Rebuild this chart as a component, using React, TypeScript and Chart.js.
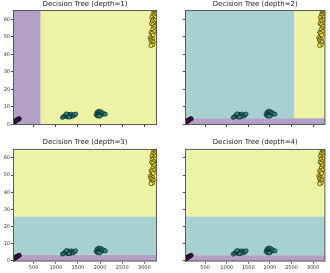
import React, { useEffect, useRef } from "react";
import { Chart, registerables } from "chart.js";

Chart.register(...registerables);

// Axis ranges and ticks
const xMin = 35;
const xMax = 3285;
const yMin = -0.3;
const yMax = 65.3;
const xTicks = [500, 1000, 1500, 2000, 2500, 3000];
const yTicks = [0, 10, 20, 30, 40, 50, 60];

// Subplot titles
const titles = [
  "Decision Tree (depth=1)",
  "Decision Tree (depth=2)",
  "Decision Tree (depth=3)",
  "Decision Tree (depth=4)",
];

// Class points
const class0X = [40, 46, 52, 58, 63, 70, 75, 82, 88, 95, 100, 107, 112, 120, 126, 133, 140, 147, 155, 162, 170, 178, 60, 110];
const class0Y = [0.9, 1.0, 1.2, 1.3, 1.5, 1.5, 1.7, 1.8, 2.0, 2.0, 2.2, 2.3, 2.4, 2.5, 2.6, 2.7, 2.8, 2.9, 3.0, 3.1, 3.2, 3.3, 1.2, 2.1];
const class1X = [1150, 1180, 1210, 1230, 1250, 1260, 1270, 1280, 1290, 1300, 1310, 1320, 1330, 1340, 1350, 1370, 1390, 1410, 1430, 1450, 1240, 1300,
  1910, 1930, 1940, 1950, 1960, 1970, 1975, 1985, 1990, 2000, 2010, 2020, 2030, 2040, 2060, 2090, 2120, 1955, 1995];
const class1Y = [4.0, 4.5, 5.2, 4.8, 5.6, 4.3, 5.0, 5.8, 4.6, 5.3, 4.9, 5.5, 4.4, 5.1, 5.9, 5.2, 4.7, 5.6, 5.4, 6.0, 6.1, 4.2,
  5.5, 6.8, 5.0, 7.2, 6.0, 5.3, 7.6, 6.4, 5.1, 6.9, 5.8, 7.3, 6.2, 5.6, 6.6, 6.0, 5.9, 4.8, 4.7];
const class2X = [3210, 3230, 3250, 3190, 3220, 3240, 3170, 3200, 3230, 3180, 3210, 3160, 3195, 3225, 3205, 3185, 3215, 3150, 3175, 3200, 3130, 3160, 3190, 3145, 3175, 3200, 3165, 3190, 3150];
const class2Y = [64, 63.5, 63, 62.5, 62, 61, 61, 60, 59.5, 59, 58, 57.5, 57, 56, 55, 54, 53, 52.5, 52, 51, 49.5, 49, 48.5, 48, 47.5, 47, 46, 45.5, 45];

// Decision regions: [x0, x1, y0, y1, class]
const depth1Regions = [
  [xMin, 660, yMin, yMax, 0],
  [660, xMax, yMin, yMax, 2],
];
const depth2Regions = [
  [xMin, xMax, yMin, 3.6, 0],
  [xMin, 2560, 3.6, yMax, 1],
  [2560, xMax, 3.6, yMax, 2],
];
const depth3Regions = [
  [xMin, xMax, yMin, 3.6, 0],
  [xMin, xMax, 3.6, 26, 1],
  [xMin, xMax, 26, yMax, 2],
];
const depth4Regions = [
  [xMin, xMax, yMin, 3.4, 0],
  [xMin, xMax, 3.4, 26, 1],
  [xMin, xMax, 26, yMax, 2],
];
const allRegions = [depth1Regions, depth2Regions, depth3Regions, depth4Regions];

const classColors = ["#440154", "#21918c", "#fde725"];
const regionColors = ["rgb(180,160,197)", "rgb(167,208,209)", "rgb(236,243,164)"];

const FONT = "'DejaVu Sans', sans-serif";

type Panel = {
  left: number;
  top: number;
  width: number;
  height: number;
  yAxisWidth: number;
  xAxisHeight: number;
  padTop: number;
  padRight: number;
  titlePadBottom: number;
  showX: boolean;
  showY: boolean;
};

const panels: Panel[] = [
  { left: 0, top: 0, width: 165, height: 137, yAxisWidth: 13, xAxisHeight: 12, padTop: 0, padRight: 8, titlePadBottom: 1.6, showX: false, showY: true },
  { left: 165, top: 0, width: 165, height: 137, yAxisWidth: 20, xAxisHeight: 12, padTop: 0, padRight: 2, titlePadBottom: 1.6, showX: false, showY: false },
  { left: 0, top: 136, width: 165, height: 137, yAxisWidth: 13, xAxisHeight: 11.5, padTop: 1.5, padRight: 8, titlePadBottom: 3, showX: true, showY: true },
  { left: 165, top: 136, width: 165, height: 137, yAxisWidth: 20, xAxisHeight: 11.5, padTop: 1.5, padRight: 2, titlePadBottom: 3, showX: true, showY: false },
];

function toPoints(xs: number[], ys: number[]) {
  return xs.map((x, i) => ({ x, y: ys[i] }));
}

function Panel({ idx }: { idx: number }) {
  const ref = useRef<HTMLCanvasElement | null>(null);
  const p = panels[idx];
  useEffect(() => {
    if (!ref.current) return;
    const regions = allRegions[idx];
    const regionPlugin = {
      id: "regions",
      beforeDatasetsDraw(chart: any) {
        const { ctx, chartArea, scales } = chart;
        ctx.save();
        ctx.beginPath();
        ctx.rect(chartArea.left, chartArea.top, chartArea.right - chartArea.left, chartArea.bottom - chartArea.top);
        ctx.clip();
        regions.forEach((r) => {
          const x0 = scales.x.getPixelForValue(r[0]);
          const x1 = scales.x.getPixelForValue(r[1]);
          const y0 = scales.y.getPixelForValue(r[2]);
          const y1 = scales.y.getPixelForValue(r[3]);
          ctx.fillStyle = regionColors[r[4]];
          ctx.fillRect(x0, y1, x1 - x0, y0 - y1);
        });
        ctx.restore();
      },
      afterDatasetsDraw(chart: any) {
        const { ctx, chartArea } = chart;
        ctx.save();
        ctx.strokeStyle = "#5a5a5a";
        ctx.lineWidth = 1;
        ctx.strokeRect(chartArea.left + 0.5, chartArea.top + 0.5, chartArea.right - chartArea.left - 1, chartArea.bottom - chartArea.top - 1);
        ctx.restore();
      },
    };
    const mk = (xs: number[], ys: number[], c: number) => ({
      data: toPoints(xs, ys),
      backgroundColor: classColors[c],
      borderColor: "#111",
      borderWidth: 0.6,
      pointRadius: 2,
    });
    const chart = new Chart(ref.current, {
      type: "scatter",
      data: {
        datasets: [mk(class0X, class0Y, 0), mk(class1X, class1Y, 1), mk(class2X, class2Y, 2)],
      },
      options: {
        animation: false,
        responsive: false,
        devicePixelRatio: 1,
        layout: { padding: { top: p.padTop, right: p.padRight, left: 0, bottom: 0 } },
        plugins: {
          legend: { display: false },
          tooltip: { enabled: false },
          title: {
            display: true,
            text: titles[idx],
            fullSize: false,
            color: "#222",
            font: { family: FONT, size: 7, weight: "normal" },
            padding: { top: 0, bottom: p.titlePadBottom },
          },
        },
        scales: {
          x: {
            type: "linear",
            min: xMin,
            max: xMax,
            afterBuildTicks: (s: any) => {
              s.ticks = xTicks.map((v) => ({ value: v }));
            },
            afterFit: (s: any) => {
              s.height = p.xAxisHeight;
            },
            grid: { drawOnChartArea: false, drawTicks: true, tickLength: 2, color: "#444" },
            border: { display: false },
            ticks: {
              display: p.showX,
              font: { family: FONT, size: 5 },
              color: "#333",
              padding: 1,
              maxRotation: 0,
              autoSkip: false,
              callback: (v: any) => String(v),
            },
          },
          y: {
            type: "linear",
            min: yMin,
            max: yMax,
            afterBuildTicks: (s: any) => {
              s.ticks = yTicks.map((v) => ({ value: v }));
            },
            afterFit: (s: any) => {
              s.width = p.yAxisWidth;
            },
            grid: { drawOnChartArea: false, drawTicks: true, tickLength: 2, color: "#444" },
            border: { display: false },
            ticks: {
              display: p.showY,
              font: { family: FONT, size: 5 },
              color: "#333",
              padding: 1,
              autoSkip: false,
              callback: (v: any) => String(v),
            },
          },
        },
      },
      plugins: [regionPlugin],
    } as any);
    return () => chart.destroy();
  }, [idx]);
  return (
    <div style={{ position: "absolute", left: p.left, top: p.top, width: p.width, height: p.height }}>
      <canvas ref={ref} width={p.width} height={p.height} style={{ width: p.width, height: p.height, display: "block" }} />
    </div>
  );
}

export default function App() {
  return (
    <div style={{ position: "fixed", left: 0, top: 0, width: 330, height: 273, background: "#fff", overflow: "hidden" }}>
      {[0, 1, 2, 3].map((i) => (
        <Panel key={i} idx={i} />
      ))}
    </div>
  );
}
